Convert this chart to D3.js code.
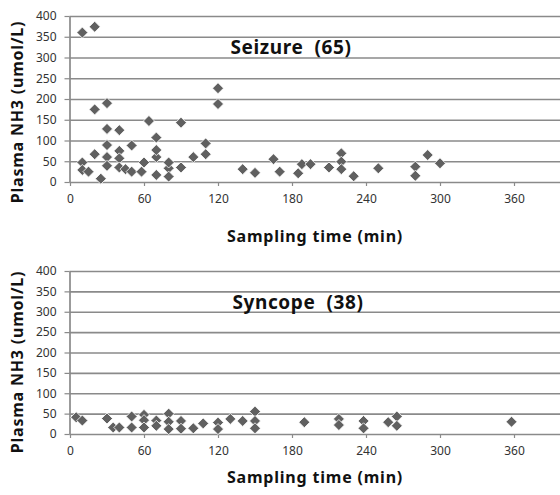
<!DOCTYPE html>
<html>
<head>
<meta charset="utf-8">
<script src="https://cdn.jsdelivr.net/npm/d3@7"></script>
<style>
  body { margin: 0; background: #fff; }
  text { font-family: "Noto Sans", "DejaVu Sans", sans-serif; }
</style>
</head>
<body>
<div id="chart"></div>
<script>
// sampling time (min) and plasma NH3 (umol/L)
const seizureTime = [10, 20, 20, 30, 30, 40, 64, 90, 120, 120,
  30, 40, 50, 70, 110, 110, 100,
  70, 70, 20, 10, 10, 15, 25, 30, 30, 40, 40, 45, 50, 60, 58, 70, 80, 80, 80, 90,
  140, 150, 165, 170, 185, 188, 195, 210, 220, 220, 220, 230, 250, 280, 280, 290, 300];
const seizureNH3 = [360, 374, 175, 190, 128, 125, 147, 143, 226, 188,
  89, 75, 88, 107, 93, 67, 60,
  60, 77, 67, 47, 29, 25, 8, 60, 39, 57, 35, 31, 25, 47, 25, 17, 33, 47, 13, 35,
  31, 22, 55, 25, 21, 43, 43, 35, 69, 49, 31, 14, 33, 37, 15, 65, 45];

const syncopeTime = [5, 10, 30, 35, 40, 50, 50, 60, 60, 60, 70, 70, 80, 80, 80, 90, 90, 100,
  108, 120, 120, 130, 140, 150, 150, 150, 190, 218, 218, 238, 238, 258, 265, 265, 358];
const syncopeNH3 = [41, 33, 38, 16, 16, 43, 16, 47, 34, 16, 33, 20, 50, 30, 12, 32, 13, 14,
  26, 28, 12, 37, 32, 55, 32, 14, 29, 37, 22, 32, 14, 29, 43, 20, 30];

const xTicks = [0, 60, 120, 180, 240, 300, 360];
const yTicks = [0, 50, 100, 150, 200, 250, 300, 350, 400];

const width = 560, height = 495;

let svg = d3.select("#chart")
    .append("svg")
    .attr("width", width)
    .attr("height", height);

const gridColor = "#8a8a8a",
      markColor = "#606060";

// draw one scatter panel
function panel(times, values, title, top, bottom, titleX, titleY, xTitleY, yTitleY) {
    let x = d3.scaleLinear()
        .domain([0, 420])
        .range([70, 588]);   // runs past the right edge, the picture is cropped

    let y = d3.scaleLinear()
        .domain([0, 400])
        .range([bottom, top]);

    let g = svg.append("g");

    // horizontal gridlines
    g.append("g")
        .attr("transform", "translate(69.5,0)")
        .call(d3.axisLeft(y).tickValues(yTicks).tickSize(-(width - 69)).tickFormat(""))
        .call(a => a.select(".domain").remove())
        .call(a => a.selectAll("line").attr("stroke", gridColor).attr("stroke-width", 1.7));

    // y axis
    g.append("g")
        .attr("transform", "translate(69.5,0)")
        .call(d3.axisLeft(y).tickValues(yTicks).tickSize(5).tickPadding(8).tickSizeOuter(0))
        .call(a => a.select(".domain").attr("stroke", gridColor).attr("stroke-width", 1.7))
        .call(a => a.selectAll("line").attr("stroke", gridColor).attr("stroke-width", 1.2))
        .call(a => a.selectAll("text").attr("font-size", 12).attr("fill", "#333")
            .attr("font-family", "'Noto Sans', sans-serif"));

    // x axis
    g.append("g")
        .attr("transform", `translate(0,${bottom})`)
        .call(d3.axisBottom(x).tickValues(xTicks).tickSize(4).tickPadding(8).tickSizeOuter(0))
        .call(a => a.select(".domain").remove())
        .call(a => a.selectAll("line").attr("stroke", gridColor).attr("stroke-width", 1.2))
        .call(a => a.selectAll("text").attr("font-size", 12).attr("fill", "#333")
            .attr("font-family", "'Noto Sans', sans-serif"));

    // diamonds
    const pts = times.map((t, i) => ({t: t, v: values[i]}));
    g.selectAll(".pt")
        .data(pts)
        .join("path")
        .attr("class", "pt")
        .attr("d", "M0,-5.5L5.5,0L0,5.5L-5.5,0Z")
        .attr("transform", d => `translate(${x(d.t)},${y(d.v)})`)
        .attr("fill", markColor)
        .attr("stroke", "#fff")
        .attr("stroke-width", 0.8);

    // panel title
    g.append("text")
        .attr("x", titleX)
        .attr("y", titleY)
        .attr("text-anchor", "middle")
        .attr("dominant-baseline", "central")
        .attr("font-size", 19)
        .attr("font-weight", "bold")
        .attr("letter-spacing", 0.6)
        .attr("fill", "#111")
        .text(title);

    // axis titles
    g.append("text")
        .attr("transform", `translate(17,${yTitleY}) rotate(-90)`)
        .attr("text-anchor", "middle")
        .attr("dominant-baseline", "central")
        .attr("font-size", 16)
        .attr("font-weight", "bold")
        .attr("letter-spacing", 0.8)
        .attr("fill", "#111")
        .text("Plasma NH3 (umol/L)");

    g.append("text")
        .attr("x", 315)
        .attr("y", xTitleY)
        .attr("text-anchor", "middle")
        .attr("dominant-baseline", "central")
        .attr("font-size", 16)
        .attr("font-weight", "bold")
        .attr("letter-spacing", 0.8)
        .attr("fill", "#111")
        .text("Sampling time (min)");
}

panel(seizureTime, seizureNH3, "Seizure\u00a0 (65)", 16, 182, 291, 47, 236, 112);
panel(syncopeTime, syncopeNH3, "Syncope\u00a0 (38)", 271, 434, 298, 302, 477, 362);
</script>
</body>
</html>
